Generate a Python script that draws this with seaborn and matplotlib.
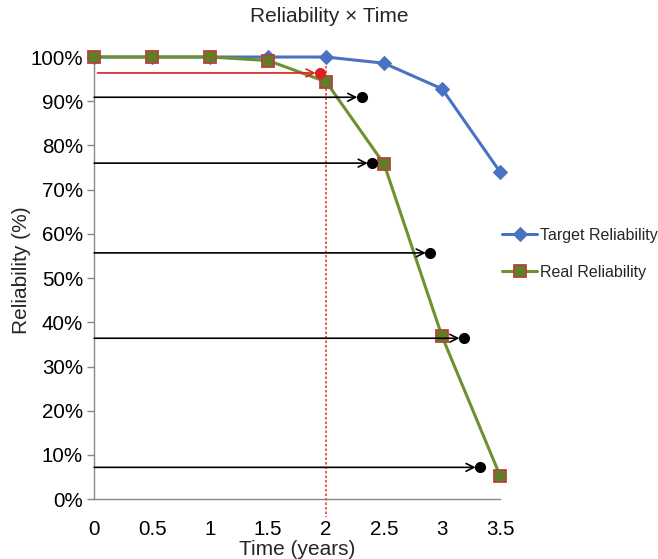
import matplotlib
matplotlib.use("Agg")
import matplotlib.pyplot as plt
import seaborn as sns
import pandas as pd

# Series values (percent)
time_years = [0, 0.5, 1, 1.5, 2, 2.5, 3, 3.5]
target_reliability = [100, 100, 100, 100, 100, 98.6, 92.8, 74.0]
real_reliability = [100, 100, 100, 99.2, 94.4, 75.8, 36.8, 5.3]

# Horizontal reading arrows: level (%) and end time (years)
arrow_levels = [90.9, 76.0, 55.7, 36.4, 7.2]
arrow_ends = [2.31, 2.40, 2.90, 3.19, 3.33]
red_level = 96.4
red_end = 1.95
cut_time = 2

y_ticks = list(range(0, 101, 10))
x_ticks = [0, 0.5, 1, 1.5, 2, 2.5, 3, 3.5]

sns.set_theme(style="white")
plt.rcParams["font.family"] = ["Liberation Sans", "DejaVu Sans"]

fig = plt.figure(figsize=(6.58, 5.59), dpi=100)
ax = fig.add_axes([0.143, 0.107, 0.617, 0.791])

df = pd.DataFrame({
    "Time": time_years * 2,
    "Reliability": target_reliability + real_reliability,
    "Series": ["Target Reliability"] * len(time_years) + ["Real Reliability"] * len(time_years),
})

blue = "#4A72C2"
green = "#6E9130"
sq_face = "#5E7F26"
sq_edge = "#B5433A"

sns.lineplot(data=df[df.Series == "Target Reliability"], x="Time", y="Reliability",
             ax=ax, color=blue, lw=2.2, marker="D", markersize=7,
             markeredgecolor=blue, label="Target Reliability", zorder=3, clip_on=False)
sns.lineplot(data=df[df.Series == "Real Reliability"], x="Time", y="Reliability",
             ax=ax, color=green, lw=2.2, marker="s", markersize=9,
             markerfacecolor=sq_face, markeredgecolor=sq_edge, markeredgewidth=1.3,
             label="Real Reliability", zorder=4, clip_on=False)

# Red dotted cut line at two years
ax.plot([cut_time, cut_time], [100, -4], color="#E8452C", lw=1.2, ls=(0, (1.5, 1.2)),
        zorder=2, clip_on=False)

# Black reading arrows with end dots
for lvl, xe in zip(arrow_levels, arrow_ends):
    ax.annotate("", xy=(xe - 0.04, lvl), xytext=(0, lvl),
                arrowprops=dict(arrowstyle="->", color="black", lw=1.2,
                                shrinkA=0, shrinkB=0, mutation_scale=14), zorder=5)
    ax.plot([xe], [lvl], "o", color="black", markersize=7, zorder=6)

# Red reading arrow
ax.annotate("", xy=(red_end - 0.04, red_level), xytext=(0.03, red_level),
            arrowprops=dict(arrowstyle="->", color="#E02020", lw=1.2,
                            shrinkA=0, shrinkB=0, mutation_scale=14), zorder=5)
ax.plot([red_end], [red_level], "o", color="#E02020", markersize=7, zorder=6)

ax.set_xlim(0, 3.5)
ax.set_ylim(0, 100)
ax.set_xticks(x_ticks)
ax.set_xticklabels(["0", "0.5", "1", "1.5", "2", "2.5", "3", "3.5"])
ax.set_yticks(y_ticks)
ax.set_yticklabels([f"{v}%" for v in y_ticks])
ax.tick_params(axis="both", labelsize=14.8, colors="black")
ax.tick_params(axis="y", length=5, width=1, color="#888888", left=True, pad=3)
ax.tick_params(axis="x", length=0, pad=15)

for s in ["top", "right"]:
    ax.spines[s].set_visible(False)
for s in ["left", "bottom"]:
    ax.spines[s].set_color("#888888")
    ax.spines[s].set_linewidth(1.0)

ax.set_xlabel("Time (years)", fontsize=15, labelpad=1)
ax.set_ylabel("Reliability (%)", fontsize=15)
ax.yaxis.set_label_coords(-0.155, 0.518)
fig.text(0.5, 0.971, "Reliability \u00d7 Time", ha="center", va="center", fontsize=15)

leg = ax.legend(loc="upper left", bbox_to_anchor=(502 / 658, 1 - 228 / 559),
                bbox_transform=fig.transFigure, frameon=False, borderpad=0,
                borderaxespad=0, fontsize=11.5, handlelength=2.2,
                labelspacing=1.35, handletextpad=0.2)

fig.savefig("out.png", dpi=100)
